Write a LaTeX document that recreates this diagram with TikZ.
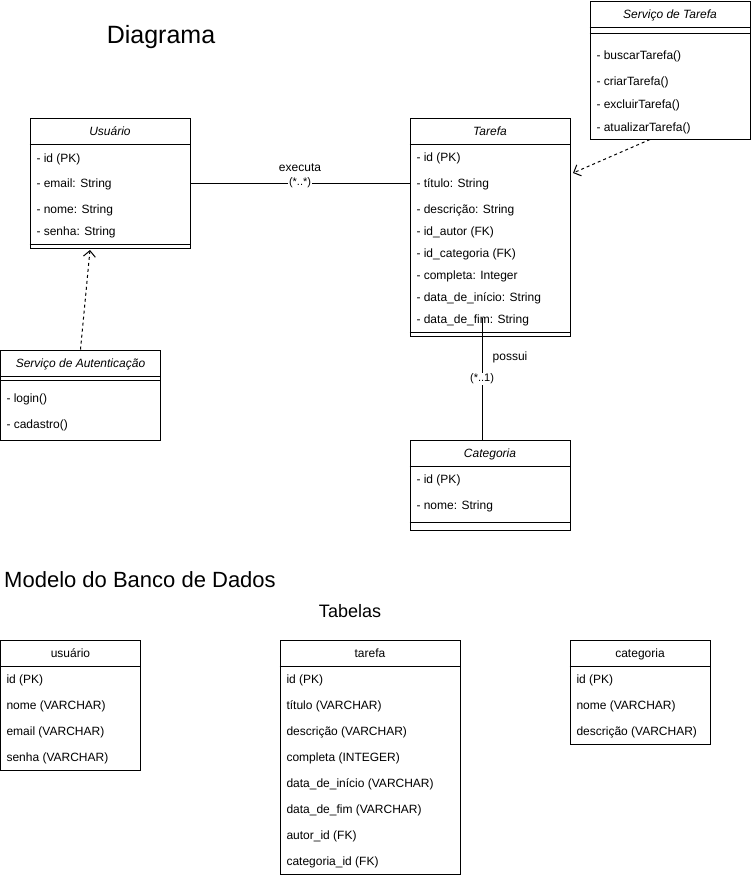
\documentclass[tikz,border=0pt]{standalone}
\usepackage{fontspec}
\setmainfont{Liberation Sans}
\usetikzlibrary{arrows.meta}

\begin{document}
\begin{tikzpicture}[x=1pt, y=-1pt, line width=1pt,
  >={Straight Barb[length=6pt,width=12pt]},
  box/.style={draw, inner sep=0pt},
  bigtext/.style={anchor=base, inner sep=0pt, font=\fontsize{#1}{#1}\selectfont},
  classname/.style={inner sep=0pt, text height=10.5pt, text depth=2pt, font=\fontsize{12}{14}\selectfont\itshape},
  tablename/.style={inner sep=0pt, text height=10.5pt, text depth=2pt, font=\fontsize{12}{14}\selectfont},
  item/.style={anchor=west, inner sep=0pt, text height=10.5pt, text depth=2pt, font=\fontsize{12}{14}\selectfont},
  mult/.style={fill=white, inner sep=1pt, font=\fontsize{11}{13}\selectfont},
  dep/.style={->, dash pattern=on 3pt off 3pt}]

  \useasboundingbox (0,0) rectangle (751,878);

  % titles
  \node (diagrama) at (161,43) [bigtext=25] {Diagrama};
  \node (modelo) at (140,587) [bigtext=22] {Modelo do Banco de Dados};
  \node (tabelas) at (350,617) [bigtext=18] {Tabelas};

  % class boxes
  \node (usuario) at (110,183) [box, minimum width=160pt, minimum height=130pt] {};
  \node (tarefa) at (490,227) [box, minimum width=160pt, minimum height=218pt] {};
  \node (servtarefa) at (670,70) [box, minimum width=160pt, minimum height=138pt] {};
  \node (servauth) at (80.5,395) [box, minimum width=160pt, minimum height=90pt] {};
  \node (categoria) at (490,485) [box, minimum width=160pt, minimum height=90pt] {};

  \draw (usuario.west |- 0,144) -- (usuario.east |- 0,144);
  \draw (usuario.west |- 0,244) -- (usuario.east |- 0,244);
  \draw (tarefa.west |- 0,144) -- (tarefa.east |- 0,144);
  \draw (tarefa.west |- 0,332) -- (tarefa.east |- 0,332);
  \draw (servtarefa.west |- 0,27) -- (servtarefa.east |- 0,27);
  \draw (servtarefa.west |- 0,33) -- (servtarefa.east |- 0,33);
  \draw (servauth.west |- 0,376) -- (servauth.east |- 0,376);
  \draw (servauth.west |- 0,380) -- (servauth.east |- 0,380);
  \draw (categoria.west |- 0,466) -- (categoria.east |- 0,466);
  \draw (categoria.west |- 0,522) -- (categoria.east |- 0,522);

  \node (usuarioname) at (110,131) [classname] {Usuário};
  \node (u1) at (36,158) [item] {- id (PK)};
  \node (u2) at (36,183) [item] {- email: String};
  \node (u3) at (36,209) [item] {- nome: String};
  \node (u4) at (36,231) [item] {- senha: String};

  \node (tarefaname) at (490,131) [classname] {Tarefa};
  \node (t1) at (416,157) [item] {- id (PK)};
  \node (t2) at (416,183) [item] {- título: String};
  \node (t3) at (416,209) [item] {- descrição: String};
  \node (t4) at (416,231) [item] {- id\_autor (FK)};
  \node (t5) at (416,253) [item] {- id\_categoria (FK)};
  \node (t6) at (416,275) [item] {- completa: Integer};
  \node (t7) at (416,297) [item] {- data\_de\_início: String};
  \node (t8) at (416,319) [item] {- data\_de\_fim: String};

  \node (servtarefaname) at (670,14) [classname] {Serviço de Tarefa};
  \node (s1) at (596,55) [item] {- buscarTarefa()};
  \node (s2) at (596,81) [item] {- criarTarefa()};
  \node (s3) at (596,104) [item] {- excluirTarefa()};
  \node (s4) at (596,127) [item] {- atualizarTarefa()};

  \node (servauthname) at (80.5,363) [classname] {Serviço de Autenticação};
  \node (a1) at (6,398) [item] {- login()};
  \node (a2) at (6,424) [item] {- cadastro()};

  \node (categorianame) at (490,453) [classname] {Categoria};
  \node (c1) at (416,479) [item] {- id (PK)};
  \node (c2) at (416,505) [item] {- nome: String};

  % connectors
  \draw (usuario.east) -- (usuario.east -| tarefa.west) node [midway, mult] (m1) {(*..*)};
  \node (executa) at (300,167) [tablename] {executa};

  \coordinate (possuitop) at (482,318);
  \draw (possuitop) -- (possuitop |- categoria.north) node [midway, mult] (m2) {(*..1)};
  \node (possui) at (510,356) [tablename] {possui};

  \coordinate (taskdeptip) at (573,173);
  \draw [dep] ([xshift=-20pt]servtarefa.south) -- (taskdeptip);
  \coordinate (authdeptip) at (90,250);
  \draw [dep] (servauth.north) -- (authdeptip);

  % tables
  \node (tabusuario) at (70.5,705) [box, minimum width=140pt, minimum height=130pt] {};
  \node (tabtarefa) at (370,757) [box, minimum width=180pt, minimum height=234pt] {};
  \node (tabcategoria) at (640,692) [box, minimum width=140pt, minimum height=104pt] {};

  \draw (tabusuario.west |- 0,666) -- (tabusuario.east |- 0,666);
  \draw (tabtarefa.west |- 0,666) -- (tabtarefa.east |- 0,666);
  \draw (tabcategoria.west |- 0,666) -- (tabcategoria.east |- 0,666);

  \node (tabusuarioname) at (70.5,653) [tablename] {usuário};
  \node (tu1) at (6,679) [item] {id (PK)};
  \node (tu2) at (6,705) [item] {nome (VARCHAR)};
  \node (tu3) at (6,731) [item] {email (VARCHAR)};
  \node (tu4) at (6,757) [item] {senha (VARCHAR)};

  \node (tabtarefaname) at (370,653) [tablename] {tarefa};
  \node (tt1) at (286,679) [item] {id (PK)};
  \node (tt2) at (286,705) [item] {título (VARCHAR)};
  \node (tt3) at (286,731) [item] {descrição (VARCHAR)};
  \node (tt4) at (286,757) [item] {completa (INTEGER)};
  \node (tt5) at (286,783) [item] {data\_de\_início (VARCHAR)};
  \node (tt6) at (286,809) [item] {data\_de\_fim (VARCHAR)};
  \node (tt7) at (286,835) [item] {autor\_id (FK)};
  \node (tt8) at (286,861) [item] {categoria\_id (FK)};

  \node (tabcategorianame) at (640,653) [tablename] {categoria};
  \node (tc1) at (576,679) [item] {id (PK)};
  \node (tc2) at (576,705) [item] {nome (VARCHAR)};
  \node (tc3) at (576,731) [item] {descrição (VARCHAR)};

\end{tikzpicture}
\end{document}
